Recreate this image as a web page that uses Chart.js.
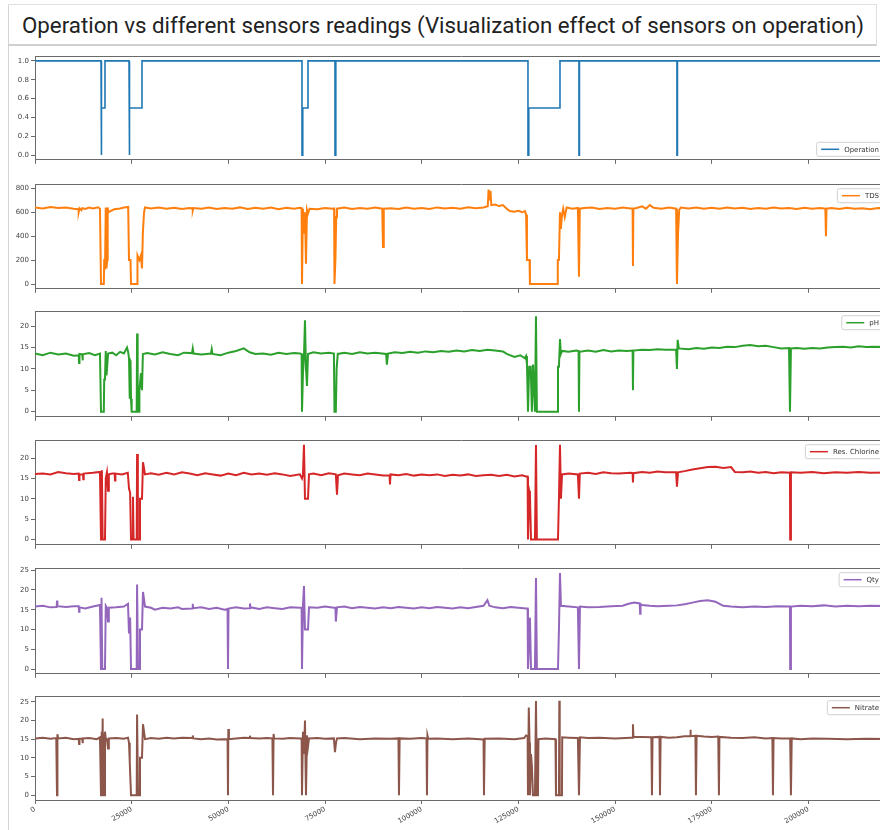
<!DOCTYPE html>
<html><head><meta charset="utf-8">
<script src="https://cdn.jsdelivr.net/npm/chart.js@4.4.0/dist/chart.umd.min.js"></script>
<style>
html,body{margin:0;padding:0;background:#fff;overflow:hidden;width:880px;height:830px;}
#frame{position:absolute;left:8px;top:4px;width:1000px;height:900px;border-left:1px solid #d4d4d4;}
#titlebox{position:absolute;left:8px;top:4px;width:868px;height:39px;border-top:1px solid #e0e0e0;border-bottom:2px solid #d0d0d0;border-right:1px solid #e0e0e0;}
#title{position:absolute;left:22px;top:12px;font:22.3px Roboto;color:#222;white-space:nowrap;}
canvas{position:absolute;left:0;}
</style></head><body>
<div id="frame"></div>
<div id="titlebox"></div>
<div id="title">Operation vs different sensors readings (Visualization effect of sensors on operation)</div>
<canvas id="c0" width="888" height="116" style="top:50px"></canvas>
<canvas id="c1" width="888" height="117" style="top:178px"></canvas>
<canvas id="c2" width="888" height="118" style="top:305px"></canvas>
<canvas id="c3" width="888" height="117" style="top:434px"></canvas>
<canvas id="c4" width="888" height="118" style="top:562px"></canvas>
<canvas id="c5" width="888" height="140" style="top:690px"></canvas>
<script>
// ---------- data ----------
const seriesNames = ['Operation','TDS','pH','Res. Chlorine','Qty','Nitrate'];
const xTicks = [0,25000,50000,75000,100000,125000,150000,175000,200000];
const xMax = 220600;

const yTicksOperation = [0,0.2,0.4,0.6,0.8,1.0];
const yTicksTDS = [0,200,400,600,800];
const yTicksPH = [0,5,10,15,20];
const yTicksChlorine = [0,5,10,15,20];
const yTicksQty = [0,5,10,15,20,25];
const yTicksNitrate = [0,5,10,15,20,25];

const operation = [[0,1],[17070,1],[17070,0],[17250,0],[17250,0.5],[18100,0.5],[18100,1],[24310,1],[24310,0],[24500,0],[24500,0.5],[27670,0.5],[27670,1],
[69050,1],[69050,0],[69250,0],[69250,0.5],[70600,0.5],[70600,1],[77580,1],[77580,0],[77800,0],[77800,1],
[127490,1],[127490,0],[127700,0],[127700,0.5],[135770,0.5],[135770,1],[140680,1],[140680,0],[140800,0],[140800,1],
[166020,1],[166020,0],[166150,0],[166150,1],[222000,1]];

const tds = [[0,640],[2000,632],[4000,645],[6000,636],[8000,641],[10000,630],[11200,626],[11300,603],[11500,634],[12000,618],[12200,635],[13000,628],[14000,640],[15000,632],[16300,642],[16800,630],
[17070,0],[17800,0],[17900,210],[18100,120],[18300,640],[18500,130],[18650,200],[18800,640],[19000,600],[19500,610],[20500,625],[22000,632],[23000,640],[24100,645],
[24310,200],[24700,200],[24830,0],[26400,0],[26500,240],[27000,200],[27400,240],[27670,130],[27900,430],[28200,600],[28450,640],[30000,632],[32000,641],[34000,630],[36000,638],[38000,628],[40000,636],[40700,632],[40800,615],[40950,635],[43000,630],[45000,640],[47000,628],[49000,636],[51000,630],[53000,641],[55000,628],[57000,637],[59000,630],[61000,640],[63000,626],[65000,637],[67000,630],[68500,638],[68950,635],
[69050,0],[69300,630],[69560,420],[69820,600],[70080,170],[70340,620],[70600,590],[71000,630],[73000,625],[75000,635],[77000,630],[77350,632],
[77450,0],[77700,210],[77900,560],[78100,630],[80000,640],[82000,628],[84000,636],[86000,630],[88000,640],[89800,630],[90000,310],[90200,630],[92000,634],[94000,628],[96000,640],[98000,630],[100000,636],[102000,628],[104000,641],[106000,632],[108000,638],[110000,630],[112000,642],[114000,634],[116000,640],[117100,650],[117300,790],[117500,700],[117800,780],[118000,660],[119000,665],[120000,652],[121000,660],[122000,630],[122800,610],[124000,605],[125000,612],[126000,600],[126700,610],[127000,580],
[127230,200],[127900,200],[128000,0],[135000,0],[135200,200],[135500,200],[135770,600],[136000,460],[136300,580],[136600,630],[137000,560],[137500,640],[139000,630],[140400,636],[140680,60],[140900,630],[142000,636],[144000,640],[146000,628],[148000,636],[150000,630],[152000,640],[154000,632],[154550,632],[154640,150],[154750,630],[156000,640],[157000,650],[158000,630],[159000,660],[160000,638],[162000,630],[164000,640],[165800,630],
[166020,0],[166300,420],[166600,620],[167000,640],[169000,632],[171000,640],[173000,630],[175000,638],[177000,630],[179000,640],[181000,632],[183000,638],[185000,628],[187000,636],[189000,630],[191000,640],[193000,632],[195000,636],[197000,628],[199000,638],[201000,630],[203000,636],[204400,630],[204550,400],[204700,630],[206000,636],[208000,628],[210000,638],[212000,630],[214000,634],[216000,626],[218000,636],[222000,628]];

const ph = [[0,13.6],[2000,13.2],[4000,13.8],[6000,13.4],[8000,13.6],[10000,13.1],[11300,13.2],[11400,11.4],[11500,13.5],[12200,13.4],[12300,12],[12400,13.4],[14000,13.7],[15500,13.2],[16800,13.6],
[17070,0],[17800,0],[17900,7.5],[18100,8],[18300,14.2],[18500,8.5],[18700,11],[18900,13.6],[20000,13.8],[21000,13.2],[22000,14],[23000,13.6],[23800,15],[24100,13.9],
[24310,12.5],[24500,3],[24700,12],[24830,3],[25000,0],[26300,0],[26400,18.3],[26550,0],[26900,0],[27000,5],[27400,9],[27670,5],[27900,13.5],[29000,13.7],[31000,13.4],[33000,13.9],[35000,13.5],[37000,13.2],[38500,13.8],[40600,13.7],[40800,14.8],[41000,13.6],[43000,13.4],[45500,13.6],[45700,14.6],[45900,13.5],[48000,13.2],[50000,13.8],[52000,14.2],[54000,14.8],[55500,13.9],[57000,13.5],[59000,13.6],[61000,13.3],[63000,13.8],[65000,13.5],[67000,13.7],[68500,13.6],[68950,13.5],
[69050,0],[69300,9],[69560,13],[69820,21.4],[70080,10],[70340,6],[70600,13.5],[72000,13.9],[74000,13.6],[76000,13.8],[77300,13.6],
[77450,0],[77800,0],[78000,10],[78300,13.5],[80000,13.8],[82000,13.5],[84000,13.9],[86000,13.6],[88000,13.8],[90800,13.5],[91000,11],[91300,13.6],[93000,13.9],[95000,13.7],[97000,14],[99000,13.8],[101000,14.1],[103000,13.9],[105000,14.2],[107000,14],[109000,14.3],[111000,14.1],[113000,14.4],[115000,14.2],[117000,14.5],[119000,14.3],[121000,14.1],[122000,13.5],[124000,12.8],[125500,13.2],[126700,12.5],[127000,13],
[127230,11],[127500,0],[127800,10.5],[128200,10.5],[128500,0],[128800,11],[129300,0],[129560,22.3],[129800,0],[135000,0],[135250,10.5],[135500,10.5],[135770,17],[136000,13.5],[136300,14.2],[138000,14],[140000,14.3],[140580,14.2],[140680,0],[140800,14],[143000,14.3],[145000,14],[147000,14.4],[149000,14.1],[151000,14.3],[153000,14.2],[154550,14.3],[154640,5],[154750,14.3],[157000,14.5],[159000,14.4],[161000,14.6],[163000,14.5],[165800,14.5],
[166020,10],[166200,16.8],[166500,14.8],[169000,14.6],[171000,14.9],[173000,14.7],[175000,15],[177000,14.9],[179000,15.2],[181000,15.1],[183000,15.4],[185000,15.6],[187000,15.3],[189000,15.4],[191000,15.1],[193000,14.8],[195000,14.9],[195250,0],[195500,14.8],[197000,14.9],[199000,14.7],[201000,14.9],[203000,14.8],[205000,15],[207000,15.1],[209000,15.2],[211000,15],[213000,15.3],[215000,15.1],[217000,15.2],[222000,15.1]];

const chlorine = [[0,16.1],[2000,16.2],[4000,16],[6000,16.6],[8000,16.3],[10000,16.1],[11300,16.2],[11400,14.6],[11500,16],[12400,16],[12500,14.8],[12600,16.2],[15000,16.4],[16800,16.6],
[17070,0],[17300,17],[17500,0],[18100,0],[18300,15],[18600,16.5],[18880,12],[19100,16],[20000,16.2],[20600,16.2],[20700,14.5],[20800,16.2],[22500,16],[24000,16.4],
[24310,12.5],[24600,11.5],[24830,0],[25300,0],[25340,10.5],[25500,0],[26300,0],[26400,21],[26600,0],[26900,0],[27150,10],[27670,10],[27930,19],[28450,16],[30000,16.3],[32000,15.9],[34000,16.4],[36000,16],[38000,16.5],[40000,16.2],[42000,15.8],[44000,16.3],[46000,16],[48000,15.7],[50000,16.2],[52000,15.8],[54000,16.4],[56000,16],[58000,16.2],[60000,15.9],[62000,16.3],[64000,16],[66000,15.6],[68500,16],
[69050,15],[69300,16],[69560,23.3],[69820,10],[70600,10],[70860,16],[72000,16.2],[74000,15.8],[76000,16.3],[77800,16],[78100,11],[78360,15.8],[80000,16.2],[82000,16],[84000,15.8],[86000,16.2],[88000,16],[90000,15.7],[91700,15.8],[91800,13.5],[91950,16],[94000,15.8],[96000,16.1],[98000,15.7],[100000,16],[102000,15.8],[104000,16],[106000,15.6],[108000,15.9],[110000,15.7],[112000,16],[114000,15.6],[116000,15.8],[118000,15.9],[120000,15.6],[122000,15.9],[124000,15.5],[126000,15.8],[127000,15.5],[127400,15.5],
[127490,0],[127800,12],[128000,11],[128270,0],[129300,0],[129560,23.2],[129800,0],[135250,0],[135500,10],[135770,23.3],[136020,10],[136300,16],[138000,16.2],[140400,16],[140680,10],[140900,16.2],[143000,16.4],[145000,16.1],[147000,16.5],[149000,16.3],[151000,16.2],[154000,16.4],[154550,16.3],[154640,14],[154750,16.3],[157000,16.6],[159000,16.4],[161000,16.7],[163000,16.5],[165800,16.5],
[166020,13],[166300,16.5],[168000,16.8],[170000,17.2],[172000,17.5],[174000,17.8],[176000,17.9],[178000,17.6],[180000,17.8],[181000,16.6],[183000,16.5],[185000,16.7],[187000,16.4],[189000,16.6],[191000,16.3],[193000,16.5],[195250,16.4],[195300,0],[195500,16.5],[198000,16.4],[201000,16.6],[204000,16.3],[207000,16.5],[210000,16.4],[213000,16.6],[216000,16.4],[222000,16.5]];

const qty = [[0,15.8],[2000,16],[4000,15.6],[5600,15.7],[5700,17.3],[5800,15.9],[8000,15.7],[10000,15.9],[11300,15.9],[11400,14.5],[11500,15.6],[13000,15.3],[15000,15.8],[16800,16.2],
[17070,0],[17200,18],[17400,0],[18100,0],[18300,16],[18600,15.5],[18880,12],[19100,15.5],[21000,15.6],[23000,15.8],[24050,16.5],
[24310,9],[24600,13],[24830,0],[26300,0],[26400,21.4],[26640,0],[26900,0],[27150,10],[27670,10],[27930,19.5],[28450,15.8],[30000,15.5],[31000,15],[33000,15.5],[35000,15.3],[37000,15.6],[38000,15.2],[40700,15.3],[40800,16.5],[40900,15.4],[43000,15.6],[45000,15.2],[47000,15.5],[49000,15],[49800,15.2],[49910,0],[50050,15.3],[52000,15.6],[54000,15.3],[55500,15.4],[55600,16.6],[55700,15.6],[58000,15.2],[60000,15.6],[62000,15.4],[64000,15.2],[66000,15.6],[68500,15.5],[68950,15.5],
[69050,0],[69300,16],[69560,21],[69820,10],[70600,10],[70860,15.6],[73000,15.5],[75000,15.8],[77300,15.5],[77700,15.5],[77800,12],[78100,15.6],[80000,15.8],[82000,15.4],[84000,15.7],[86000,15.5],[88000,15.3],[90000,15.6],[92000,15.4],[94000,15.7],[96000,15.5],[98000,15.3],[100000,15.6],[102000,15.4],[104000,15.7],[106000,15.5],[108000,15.3],[110000,15.6],[112000,15.4],[114000,15.7],[116000,16],[117000,17.4],[117500,16],[119000,15.6],[121000,15.4],[123000,15.7],[125000,15.5],[127000,15.3],[127400,15.3],
[127490,0],[127800,8],[128000,13],[128270,0],[129300,0],[129560,23],[129800,0],[135250,0],[135500,10],[135770,24.3],[136020,16],[138000,15.8],[140400,15.6],[140680,0],[140940,15.8],[143000,15.6],[146000,15.7],[149000,15.9],[152000,16],[153500,16.5],[155000,16.8],[156400,16.6],[156500,14],[156600,16.4],[157000,16.2],[159000,16],[161000,15.9],[164000,16],[166000,16.1],[168000,16.4],[170000,16.8],[172000,17.2],[174000,17.4],[176000,17],[178000,16],[180000,15.8],[183000,15.6],[186000,15.8],[189000,15.7],[192000,15.9],[195250,15.8],[195300,0],[195500,15.8],[198000,16],[201000,15.9],[204000,16.1],[207000,15.8],[210000,16],[213000,15.9],[216000,16],[222000,15.9]];

const nitrate = [[0,15.2],[2000,15.4],[4000,15.1],[5500,15.3],[5690,0],[5800,16.3],[6000,15.2],[8000,15.4],[10000,15],[11300,15.1],[11400,13.7],[11500,15.1],[12200,15.1],[12300,13.9],[12400,15.2],[14000,15.3],[16000,15],[16800,15.5],
[17070,0],[17200,17],[17300,0],[17500,20.5],[17600,0],[17800,16.5],[18000,0],[18100,17],[18300,15.2],[18600,15],[18880,12.5],[19100,15.2],[21000,15.3],[23000,15.1],[24050,15.4],
[24310,14],[24500,9],[24830,0],[26300,0],[26400,21.6],[26640,0],[26900,0],[27150,10],[27670,10],[27930,19],[28450,15],[30000,15.3],[32000,15.1],[34000,15.4],[36000,15.2],[38000,15.4],[40700,15.3],[40800,16],[40900,15.2],[43000,15],[45000,15.2],[47000,14.9],[49800,15],[49910,0],[50000,17.7],[50150,15],[52000,15.2],[54000,15.4],[55500,15.3],[55600,15.9],[55700,15.3],[58000,15.2],[60000,15.3],[61400,15.2],[61550,0],[61700,16.4],[61850,15.2],[64000,15.1],[66000,15.3],[68500,15.2],[68950,15.2],
[69050,0],[69300,17],[69560,11],[69820,20],[70080,0],[70340,16],[70600,13],[70860,15.2],[73000,15.3],[75000,15.1],[77300,15.2],[77580,11.5],[77840,14],[78100,15.2],[80000,15.3],[84000,15],[88000,15.2],[92000,15.1],[94000,15.2],[94130,0],[94300,15.2],[97000,15.1],[100000,15.3],[101250,15.2],[101370,0],[101500,16],[101700,15.1],[104000,15.2],[108000,15],[112000,15.2],[116000,14.9],[116110,0],[116300,15.1],[120000,15.2],[124000,15],[126500,15.3],[127000,16],[127400,15.8],
[127490,0],[127700,23.5],[127900,14],[128010,0],[128270,11],[128500,8],[128780,0],[129300,0],[129560,25.2],[129820,0],[130070,0],[130200,15],[132000,15.2],[134600,15],[134730,0],[135500,0],[135600,25.3],[135700,0],[136280,0],[136350,15.5],[138000,15.4],[140400,15.3],[140680,0],[140940,15.5],[143000,15.3],[146000,15.4],[150000,15.2],[154000,15.4],[154550,15.4],[154640,19],[154750,15.6],[157000,15.6],[159400,15.5],[159560,0],[159700,15.5],[161500,15.6],[161630,0],[161800,15.6],[164000,15.4],[166000,15.5],[168000,15.8],[169400,15.8],[169500,17.5],[169600,15.8],[170800,15.9],[170930,0],[171100,15.9],[173000,15.7],[175000,15.6],[176700,15.7],[176880,0],[177000,15.6],[180000,15.4],[183000,15.3],[186000,15.5],[189000,15.2],[190700,15.3],[190850,0],[191000,15.3],[193000,15.2],[195300,15.2],[195500,0],[195700,15.2],[198000,15],[201000,15.2],[205000,15.1],[210000,15],[215000,15.1],[222000,15]];

const seriesData = [operation, tds, ph, chlorine, qty, nitrate];
const seriesColors = ['#1f77b4','#ff7f0e','#2ca02c','#d62728','#9467bd','#8c564b'];
const yTickSets = [yTicksOperation, yTicksTDS, yTicksPH, yTicksChlorine, yTicksQty, yTicksNitrate];
const yRanges = [[-0.05,1.05],[-40,835],[-1.2,23.5],[-1.3,24.4],[-1.2,25.5],[-1.3,26.5]];

// ---------- drawing ----------
const TICK_FONT = {family:'DejaVu Sans', size:7};
const AXIS_COLOR = '#6a6a6a';

const spinePlugin = {
  id:'spines',
  afterDraw(chart){
    const {ctx, chartArea:a} = chart;
    ctx.save();
    ctx.strokeStyle = AXIS_COLOR; ctx.lineWidth = 1;
    ctx.beginPath();
    ctx.moveTo(a.left, Math.round(a.top)+0.5); ctx.lineTo(a.right, Math.round(a.top)+0.5);
    ctx.stroke();
    ctx.restore();
  }
};
const boxLegend = {
  id:'boxLegend',
  afterDraw(chart, args, opts){
    const {ctx, chartArea:a} = chart;
    ctx.save();
    ctx.font = '7px "DejaVu Sans"';
    const tw = ctx.measureText(opts.label).width;
    const w = 5 + 18 + 5 + tw + 5, h = 14;
    const x = a.right - 4 - w;
    const y = opts.pos === 'lower' ? a.bottom - 4 - h : a.top + 4;
    ctx.fillStyle = 'rgba(255,255,255,0.85)';
    ctx.strokeStyle = '#d0d0d0'; ctx.lineWidth = 1;
    ctx.beginPath(); ctx.roundRect(x+0.5, y+0.5, w, h, 2); ctx.fill(); ctx.stroke();
    ctx.strokeStyle = opts.color; ctx.lineWidth = 1.5;
    ctx.beginPath(); ctx.moveTo(x+5, y+h/2+0.5); ctx.lineTo(x+23, y+h/2+0.5); ctx.stroke();
    ctx.fillStyle = '#333'; ctx.textBaseline = 'middle'; ctx.textAlign = 'left';
    ctx.fillText(opts.label, x+28, y+h/2+1);
    ctx.restore();
  }
};

function makeChart(i){
  const isBottom = i === 5;
  const ticks = yTickSets[i];
  new Chart(document.getElementById('c'+i), {
    type:'line',
    data:{datasets:[{
      label: seriesNames[i],
      data: seriesData[i].map(p => ({x:p[0], y:p[1]})),
      borderColor: seriesColors[i], borderWidth: i===0 ? 1.6 : 2,
      pointRadius: 0, tension: 0, fill: false
    }]},
    options:{
      responsive:false, animation:false, events:[],
      layout:{padding:{top:4,left:0,right:0,bottom:0}},
      plugins:{legend:{display:false}, tooltip:{enabled:false},
        boxLegend:{label:seriesNames[i], color:seriesColors[i], pos: i===0 ? 'lower':'upper'}},
      scales:{
        x:{type:'linear', min:0, max:xMax,
          afterBuildTicks(s){ s.ticks = xTicks.map(v=>({value:v})); },
          afterFit(s){ s.height = isBottom ? 30 : 6; },
          ticks:{display:isBottom, font:TICK_FONT, color:'#444', maxRotation:30, minRotation:30, padding:1,
            callback:v=>String(v)},
          grid:{display:true, drawOnChartArea:false, drawTicks:true, tickLength:4, color:AXIS_COLOR},
          border:{display:true, color:AXIS_COLOR, width:1}
        },
        y:{min:yRanges[i][0], max:yRanges[i][1],
          afterBuildTicks(s){ s.ticks = ticks.map(v=>({value:v})); },
          afterFit(s){ s.width = 35; },
          ticks:{font:TICK_FONT, color:'#444', padding:2,
            callback:v=> i===0 ? v.toFixed(1) : String(v)},
          grid:{display:true, drawOnChartArea:false, drawTicks:true, tickLength:4, color:AXIS_COLOR},
          border:{display:true, color:AXIS_COLOR, width:1}
        }
      }
    },
    plugins:[spinePlugin, boxLegend]
  });
}
for (let i=0;i<6;i++) makeChart(i);
</script>
</body></html>
